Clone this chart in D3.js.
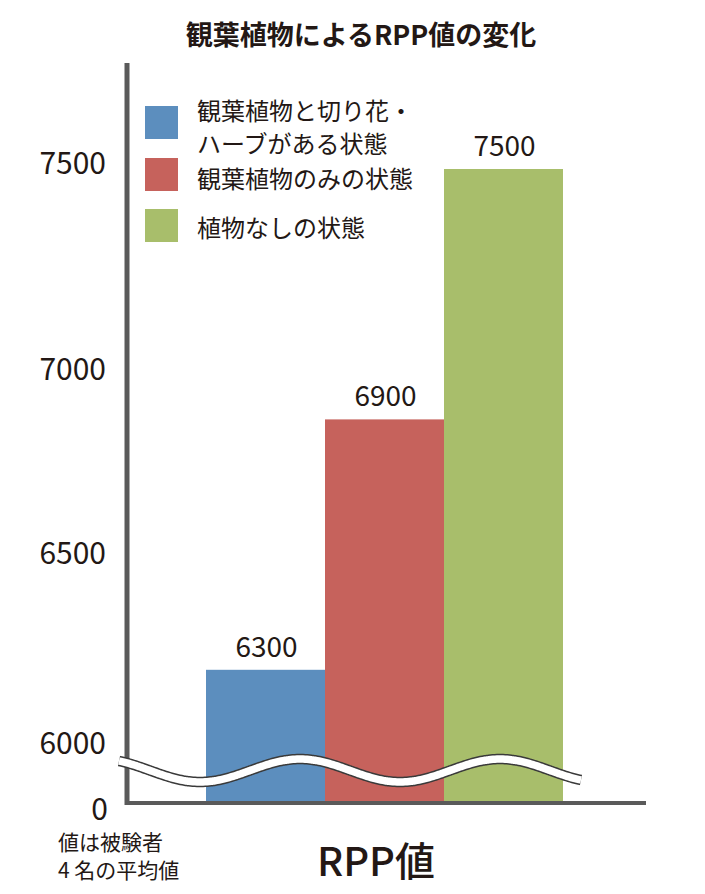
<!DOCTYPE html>
<html><head><meta charset="utf-8">
<script src="https://cdn.jsdelivr.net/npm/d3@7"></script>
<style>
html,body{margin:0;padding:0;background:#fff;}
text{font-family:"Noto Sans CJK JP","Noto Sans",sans-serif;fill:#231815;}
</style></head>
<body>
<svg id="chart" width="705" height="894"></svg>
<script>
// ---- data ----
const categories = ["観葉植物と切り花・ハーブがある状態", "観葉植物のみの状態", "植物なしの状態"];
const legendLines = [["観葉植物と切り花・", "ハーブがある状態"], ["観葉植物のみの状態"], ["植物なしの状態"]];
const values = [6300, 6900, 7500];
const colors = ["#5c8ebe", "#c6625c", "#a8be6b"];
const tickLabels = [7500, 7000, 6500, 6000];
const zeroLabel = "0";
const title = "観葉植物によるRPP値の変化";
const xTitle = "RPP値";
const note = ["値は被験者", "4 名の平均値"];

const svg = d3.select("#chart");

// layout
const axisLeft = 127, axisBottom = 803, axisTop = 63, axisRight = 646;
const barsLeft = 206, barsRight = 563;

const x = d3.scaleBand().domain(categories).range([barsLeft, barsRight]).padding(0);
const y = d3.scaleLinear().domain([6000, 7500]).range([795, 169]);
// tick labels on the (hand-spaced) axis of the original
const tickY = d3.scaleLinear().domain([6000, 6500, 7000, 7500]).range([741, 551, 367, 161]);

// title
svg.append("text").attr("x", 361).attr("y", 33)
  .attr("text-anchor", "middle").attr("dominant-baseline", "central")
  .style("font-size", "27px").style("font-weight", "600").text(title);

// bars
svg.append("g").selectAll("rect").data(values).join("rect")
  .attr("x", (d, i) => x(categories[i]))
  .attr("width", x.bandwidth())
  .attr("y", d => y(d))
  .attr("height", d => axisBottom - 2 - y(d))
  .attr("fill", (d, i) => colors[i]);

// value labels
svg.append("g").selectAll("text").data(values).join("text")
  .attr("x", (d, i) => x(categories[i]) + x.bandwidth() / 2 + 1)
  .attr("y", d => y(d) - 13)
  .attr("text-anchor", "middle")
  .style("font-size", "28px")
  .text(d => d);

// axes lines
svg.append("line").attr("x1", axisLeft).attr("x2", axisLeft).attr("y1", axisTop).attr("y2", axisBottom + 2)
  .attr("stroke", "#5a5a5a").attr("stroke-width", 5);
svg.append("line").attr("x1", axisLeft - 2).attr("x2", axisRight).attr("y1", axisBottom).attr("y2", axisBottom)
  .attr("stroke", "#5a5a5a").attr("stroke-width", 4);

// tick labels
svg.append("g").selectAll("text").data(tickLabels).join("text")
  .attr("x", 106).attr("y", d => tickY(d))
  .attr("text-anchor", "end").attr("dominant-baseline", "central")
  .style("font-size", "30px").text(d => d);
svg.append("text").attr("x", 108).attr("y", 807)
  .attr("text-anchor", "end").attr("dominant-baseline", "central")
  .style("font-size", "30px").text(zeroLabel);

// axis break wave
const waveX = d3.range(119, 582, 2);
const wave = d3.line().x(d => d).y(d => 770.5 - 11.5 * Math.cos(2 * Math.PI * (d - 300) / 200)).curve(d3.curveBasis);
svg.append("path").attr("d", wave(waveX)).attr("fill", "none").attr("stroke", "#3a3a3a").attr("stroke-width", 10.5);
svg.append("path").attr("d", wave(waveX)).attr("fill", "none").attr("stroke", "#fff").attr("stroke-width", 7.5);

// legend
const legendSwatchY = [106, 158, 209];
const legendTextY = [[109, 142], [177], [226]];
const lg = svg.append("g");
legendLines.forEach((lines, i) => {
  lg.append("rect").attr("x", 145).attr("y", legendSwatchY[i]).attr("width", 33).attr("height", 33).attr("fill", colors[i]);
  lines.forEach((t, j) => {
    lg.append("text").attr("x", 197).attr("y", legendTextY[i][j])
      .attr("dominant-baseline", "central").style("font-size", "24px").text(t);
  });
});

// x title
svg.append("text").attr("x", 376).attr("y", 859)
  .attr("text-anchor", "middle").attr("dominant-baseline", "central")
  .style("font-size", "40px").style("font-weight", "500").text(xTitle);

// note
note.forEach((t, i) => {
  svg.append("text").attr("x", 58).attr("y", 841 + i * 28)
    .attr("dominant-baseline", "central").style("font-size", "21px").text(t);
});
</script>
</body></html>
